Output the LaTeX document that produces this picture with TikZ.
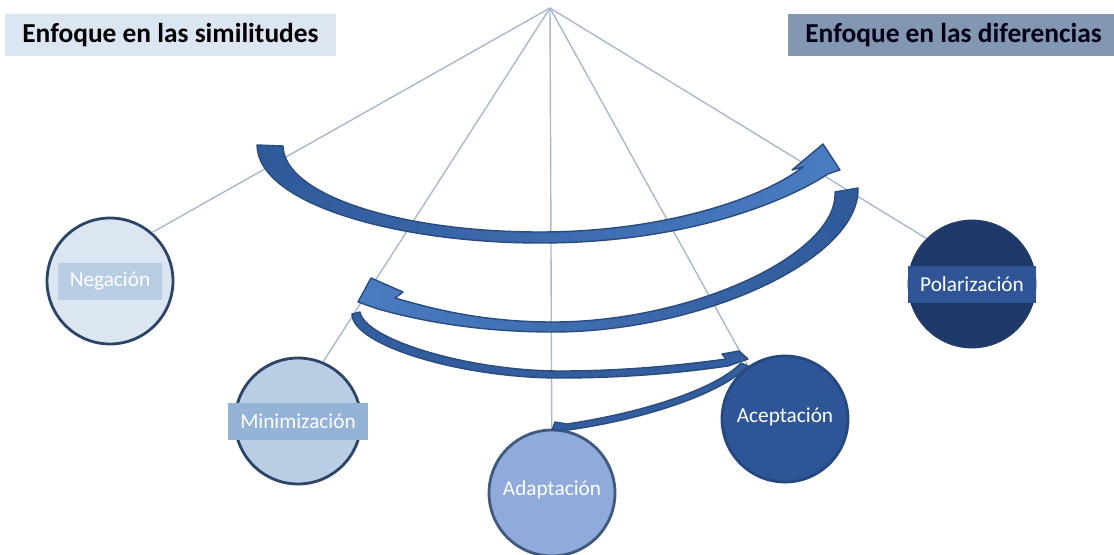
\documentclass[tikz,border=0pt]{standalone}
\usepackage{fontspec}
\setmainfont{Carlito}
\usepackage{tikz}

\definecolor{simfond}{HTML}{DCE6F2}
\definecolor{diffond}{HTML}{8497B0}
\definecolor{lignecol}{HTML}{A9B8CB}
\definecolor{bordcol}{HTML}{2C4566}
\definecolor{flechefonce}{HTML}{2F5A9A}
\definecolor{flecheclair}{HTML}{4A7CC2}
\definecolor{flechebord}{HTML}{2A4B7C}

\definecolor{negfond}{HTML}{DCE6F2}
\definecolor{negetiq}{HTML}{B8CCE4}
\definecolor{minfond}{HTML}{B9CDE5}
\definecolor{minetiq}{HTML}{95B3D7}
\definecolor{adafond}{HTML}{8FAADB}
\definecolor{acefond}{HTML}{2D5597}
\definecolor{polfond}{HTML}{1F3A68}
\definecolor{poletiq}{HTML}{2F5597}

\begin{document}
\begin{tikzpicture}[x=0.02cm, y=-0.02cm,
    entete/.style={anchor=west, font=\bfseries\fontsize{15.6}{18}\selectfont, inner xsep=0.34cm, minimum height=0.84cm},
    etape/.style={circle, minimum size=2.52cm, line width=1.6pt},
    etiq/.style={text=white, font=\fontsize{12.1}{14}\selectfont, inner xsep=0.24cm, minimum height=0.74cm},
    fleche/.style={draw=flechebord, line width=0.8pt, line join=round}]

    \useasboundingbox (0,0) rectangle (1114,554);

    \node[entete, fill=simfond] (sim) at (5,35) {Enfoque en las similitudes};
    \node[entete, fill=diffond, text=black!90!blue] (dif) at (788,35) {Enfoque en las diferencias};

    \coordinate (sommet) at (550,8);

    \node[etape, fill=negfond, draw=bordcol] (neg) at (110,281) {};
    \node[etape, fill=minfond, draw=bordcol] (min) at (298,421) {};
    \node[etape, fill=adafond, draw=bordcol!80!adafond] (ada) at (552,493) {};
    \node[etape, fill=acefond, draw=acefond!85!black] (ace) at (785,419) {};
    \node[etape, fill=polfond, draw=polfond] (pol) at (972,284) {};

    \draw[draw=lignecol, line width=0.8pt] (sommet) -- (neg.49);
    \draw[draw=lignecol, line width=0.8pt] (sommet) -- (min.67);
    \draw[draw=lignecol, line width=0.8pt] (sommet) -- (ada);
    \draw[draw=lignecol, line width=0.8pt] (sommet) -- (ace.125);
    \draw[draw=lignecol, line width=0.8pt] (sommet) -- (pol.135);

    \node[etiq, fill=negetiq] (negl) at (neg) {Negación};
    \node[etiq, fill=minetiq] (minl) at (min) {Minimización};
    \node[etiq] (adal) at ([yshift=2]ada) {Adaptación};
    \node[etiq] (acel) at ([yshift=1]ace) {Aceptación};
    \node[etiq, fill=poletiq] (poll) at (pol) {Polarización};

    % fleches
    \draw[fleche, left color=flechefonce, right color=flecheclair]
      (257,145) .. controls (258,205) and (400,243) .. (540,243)
      .. controls (680,243) and (780,205) .. (828,174)
      -- (840,170) -- (823,144) -- (792,170) -- (803,167)
      .. controls (760,200) and (660,232) .. (540,232)
      .. controls (400,232) and (284,195) .. (283,146) -- cycle;

    \draw[fleche, left color=flecheclair, right color=flechefonce]
      (858,188) .. controls (860,260) and (700,332) .. (553,332)
      .. controls (470,332) and (410,318) .. (378,309)
      -- (358,302) -- (371,278) -- (403,292) -- (395,298)
      .. controls (430,308) and (480,322) .. (553,322)
      .. controls (690,322) and (838,255) .. (835,192) -- cycle;

    \draw[fleche, fill=flechefonce!90!flecheclair]
      (352,314) .. controls (352,345) and (460,378) .. (560,378)
      .. controls (640,378) and (700,370) .. (728,366)
      -- (748,359) -- (739,351) -- (722,354) -- (726,359)
      .. controls (690,364) and (630,371) .. (560,371)
      .. controls (470,371) and (365,340) .. (360,312) -- cycle;

    \draw[fleche, fill=flechefonce!90!flecheclair]
      (748,366) .. controls (720,395) and (640,420) .. (568,430)
      -- (552,430) -- (555,422) -- (567,424)
      .. controls (640,413) and (715,390) .. (741,363) -- cycle;

\end{tikzpicture}
\end{document}
